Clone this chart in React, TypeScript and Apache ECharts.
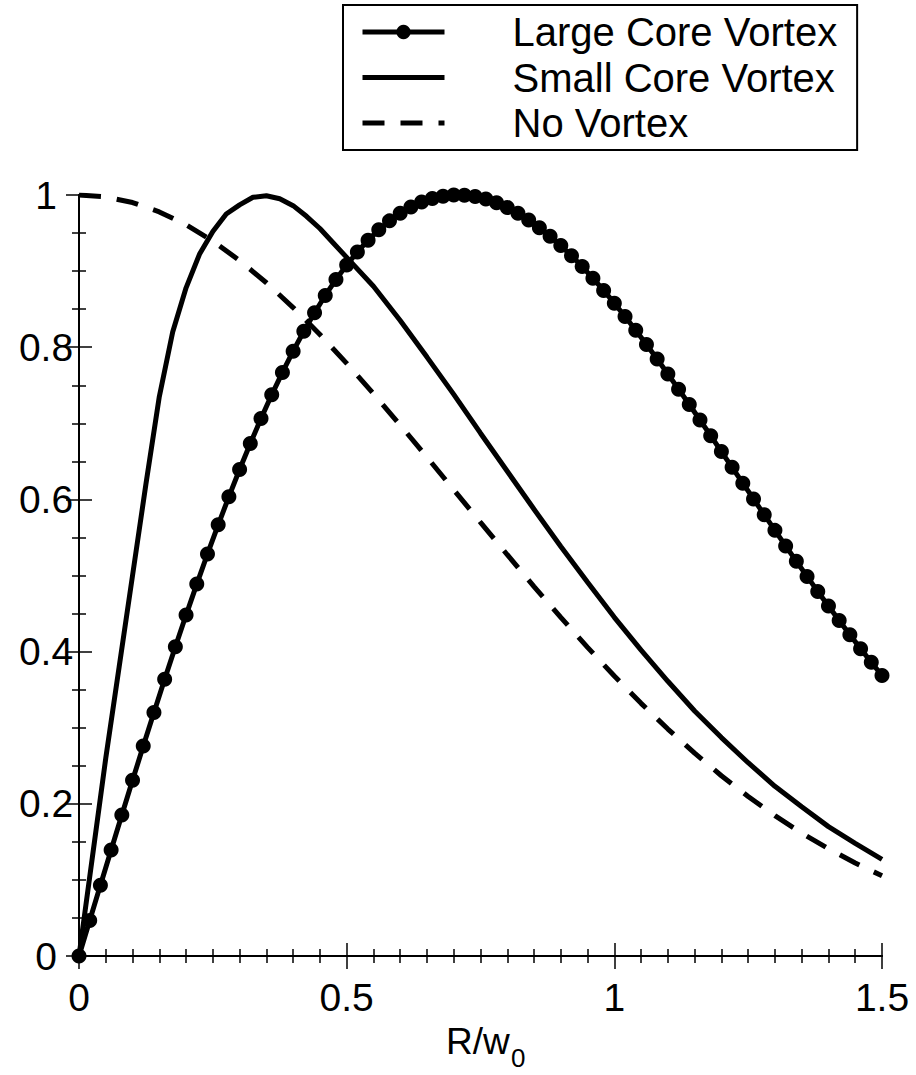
import React, { useEffect, useRef } from "react";
import * as echarts from "echarts";

const FONT = "'Liberation Sans', Arial, Helvetica, sans-serif";

// Large core vortex (markers every 0.02)
const largeCoreR = [
  0, 0.02, 0.04, 0.06, 0.08, 0.1, 0.12, 0.14, 0.16, 0.18, 0.2, 0.22, 0.24, 0.26, 0.28, 0.3,
  0.32, 0.34, 0.36, 0.38, 0.4, 0.42, 0.44, 0.46, 0.48, 0.5, 0.52, 0.54, 0.56, 0.58, 0.6,
  0.62, 0.64, 0.66, 0.68, 0.7, 0.72, 0.74, 0.76, 0.78, 0.8, 0.82, 0.84, 0.86, 0.88, 0.9,
  0.92, 0.94, 0.96, 0.98, 1.0, 1.02, 1.04, 1.06, 1.08, 1.1, 1.12, 1.14, 1.16, 1.18, 1.2,
  1.22, 1.24, 1.26, 1.28, 1.3, 1.32, 1.34, 1.36, 1.38, 1.4, 1.42, 1.44, 1.46, 1.48, 1.5,
];
const largeCoreI = [
  0, 0.0466, 0.0931, 0.1394, 0.1853, 0.2308, 0.2758, 0.3201, 0.3636, 0.4063, 0.448, 0.4887,
  0.5283, 0.5666, 0.6036, 0.6393, 0.6735, 0.7062, 0.7374, 0.7669, 0.7948, 0.8209, 0.8453,
  0.868, 0.8889, 0.9079, 0.9252, 0.9406, 0.9542, 0.966, 0.976, 0.9843, 0.9907, 0.9955,
  0.9985, 0.9999, 0.9997, 0.9979, 0.9946, 0.9897, 0.9836, 0.976, 0.9672, 0.9571, 0.9458,
  0.9335, 0.9202, 0.9059, 0.8906, 0.8746, 0.8578, 0.8403, 0.8222, 0.8035, 0.7844, 0.7648,
  0.7449, 0.7247, 0.7043, 0.6837, 0.6629, 0.6421, 0.6213, 0.6006, 0.5799, 0.5593, 0.5389,
  0.5188, 0.4988, 0.4791, 0.4598, 0.4408, 0.4222, 0.4039, 0.386, 0.3686,
];

// Small core vortex
const smallCoreR = [
  0, 0.025, 0.05, 0.075, 0.1, 0.125, 0.15, 0.175, 0.2, 0.225, 0.25, 0.275, 0.3, 0.325, 0.35,
  0.375, 0.4, 0.425, 0.45, 0.475, 0.5, 0.55, 0.6, 0.65, 0.7, 0.75, 0.8, 0.85, 0.9, 0.95, 1.0,
  1.05, 1.1, 1.15, 1.2, 1.25, 1.3, 1.35, 1.4, 1.45, 1.5,
];
const smallCoreI = [
  0, 0.13, 0.26, 0.38, 0.5, 0.62, 0.735, 0.82, 0.878, 0.922, 0.952, 0.975, 0.987, 0.997, 0.999,
  0.995, 0.986, 0.972, 0.956, 0.937, 0.918, 0.88, 0.835, 0.787, 0.738, 0.687, 0.637, 0.587,
  0.538, 0.491, 0.445, 0.402, 0.361, 0.322, 0.287, 0.254, 0.223, 0.196, 0.17, 0.148, 0.127,
];

// No vortex (Gaussian)
const noVortexR = [
  0, 0.05, 0.1, 0.15, 0.2, 0.25, 0.3, 0.35, 0.4, 0.45, 0.5, 0.55, 0.6, 0.65, 0.7, 0.75, 0.8,
  0.85, 0.9, 0.95, 1.0, 1.05, 1.1, 1.15, 1.2, 1.25, 1.3, 1.35, 1.4, 1.45, 1.5,
];
const noVortexI = [
  1, 0.9975, 0.9901, 0.9778, 0.9608, 0.9394, 0.9139, 0.8847, 0.8521, 0.8167, 0.7788, 0.739,
  0.6977, 0.6554, 0.6126, 0.5698, 0.5273, 0.4855, 0.4449, 0.4056, 0.3679, 0.332, 0.2982,
  0.2665, 0.2369, 0.2096, 0.1845, 0.1616, 0.1409, 0.1222, 0.1054,
];

const seriesNames = ["Large Core Vortex", "Small Core Vortex", "No Vortex"];

const zip = (xs: number[], ys: number[]) => xs.map((x, i) => [x, ys[i]]);

const axisCommon = {
  axisLine: { show: true, lineStyle: { color: "#000", width: 2 } },
  axisTick: { show: true, inside: true, length: 13, lineStyle: { color: "#000", width: 1.5 } },
  minorTick: { show: true, length: 7, lineStyle: { color: "#000", width: 1.5 } },
  splitLine: { show: false },
  minorSplitLine: { show: false },
};

const LW = 5;

export default function App() {
  const ref = useRef<HTMLDivElement>(null);
  useEffect(() => {
    if (!ref.current) return;
    const chart = echarts.init(ref.current, undefined, { renderer: "svg" });
    const option: any = {
      animation: false,
      backgroundColor: "#fff",
      grid: { left: 79, right: 34, top: 195, bottom: 119, containLabel: false },
      legend: {
        data: [
          { name: seriesNames[0] },
          { name: seriesNames[1], itemStyle: { color: "rgba(0,0,0,0)", borderWidth: 0 } },
          { name: seriesNames[2], itemStyle: { color: "rgba(0,0,0,0)", borderWidth: 0 } },
        ],
        orient: "vertical",
        left: 343,
        top: 5,
        itemWidth: 82,
        itemHeight: 18,
        itemGap: 0.5,
        padding: [4.5, 20, 4.5, 17],
        borderColor: "#000",
        borderWidth: 2,
        borderRadius: 0,
        lineStyle: { width: LW },
        textStyle: {
          fontSize: 40,
          lineHeight: 36,
          color: "#000",
          fontFamily: FONT,
          padding: [0, 0, 9, 63],
        },
      },
      xAxis: [
        {
          type: "value",
          min: 0,
          max: 1.5,
          interval: 0.5,
          position: "bottom",
          ...axisCommon,
          minorTick: { ...axisCommon.minorTick, splitNumber: 10 },
          axisLabel: { margin: 22, fontSize: 39, color: "#000", fontFamily: FONT },
        },
        {
          type: "value",
          min: 0,
          max: 1.5,
          interval: 0.5,
          position: "top",
          ...axisCommon,
          minorTick: { ...axisCommon.minorTick, splitNumber: 10 },
          axisLabel: { show: false },
        },
      ],
      yAxis: [
        {
          type: "value",
          min: 0,
          max: 1,
          interval: 0.2,
          position: "left",
          ...axisCommon,
          minorTick: { ...axisCommon.minorTick, splitNumber: 4 },
          axisLabel: {
            margin: 33,
            align: "center",
            fontSize: 39,
            color: "#000",
            fontFamily: FONT,
          },
        },
        {
          type: "value",
          min: 0,
          max: 1,
          interval: 0.2,
          position: "right",
          ...axisCommon,
          minorTick: { ...axisCommon.minorTick, splitNumber: 4 },
          axisLabel: { show: false },
        },
      ],
      series: [
        {
          name: seriesNames[0],
          type: "line",
          data: zip(largeCoreR, largeCoreI),
          symbol: "circle",
          symbolSize: 15,
          showSymbol: true,
          itemStyle: { color: "#000" },
          lineStyle: { color: "#000", width: LW },
          z: 5,
        },
        {
          name: seriesNames[1],
          type: "line",
          data: zip(smallCoreR, smallCoreI),
          symbol: "none",
          itemStyle: { color: "#000" },
          lineStyle: { color: "#000", width: LW },
          z: 4,
        },
        {
          name: seriesNames[2],
          type: "line",
          data: zip(noVortexR, noVortexI),
          symbol: "none",
          itemStyle: { color: "#000" },
          lineStyle: { color: "#000", width: LW, type: [22, 16], cap: "butt" },
          z: 3,
        },
      ],
      graphic: [
        {
          type: "text",
          x: 446,
          y: 1041,
          style: {
            text: "R/w",
            font: `37px ${FONT}`,
            fill: "#000",
            align: "left",
            verticalAlign: "middle",
          },
        },
        {
          type: "text",
          x: 511,
          y: 1058,
          style: {
            text: "0",
            font: `26px ${FONT}`,
            fill: "#000",
            align: "left",
            verticalAlign: "middle",
          },
        },
      ],
    };
    chart.setOption(option);
    return () => chart.dispose();
  }, []);
  return (
    <div
      ref={ref}
      style={{ position: "absolute", left: 0, top: 0, width: 916, height: 1075, background: "#fff" }}
    />
  );
}
